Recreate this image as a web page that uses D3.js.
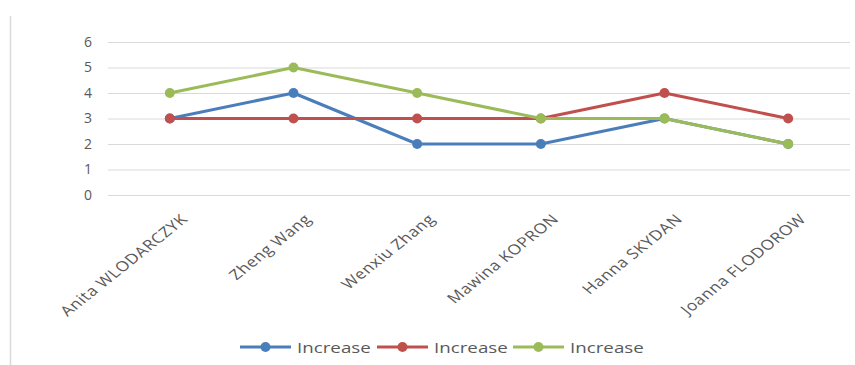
<!DOCTYPE html>
<html>
<head>
<meta charset="utf-8">
<script src="https://cdn.jsdelivr.net/npm/d3@7"></script>
<style>
  body { margin: 0; background: #fff; }
  text { font-family: "Open Sans", "Liberation Sans", Arial, sans-serif; fill: #595959; }
</style>
</head>
<body>
<svg id="chart" width="855" height="365"></svg>
<script>
// categories and series
var names = ["Anita WLODARCZYK", "Zheng Wang", "Wenxiu Zhang", "Mawina KOPRON", "Hanna SKYDAN", "Joanna FLODOROW"];
var blueValues = [3, 4, 2, 2, 3, 2];
var redValues = [3, 3, 3, 3, 4, 3];
var greenValues = [4, 5, 4, 3, 3, 2];
var seriesNames = ["Increase", "Increase", "Increase"];
var yTicks = [0, 1, 2, 3, 4, 5, 6];

var colors = ["#4a7ebb", "#c0504d", "#9bbb59"];

var svg = d3.select("#chart");

// plot area
const plotLeft = 108, plotRight = 850, plotTop = 42, plotBottom = 195;
// the source picture is a bit stretched sideways, text too
const stretch = 1.25;

var xScale = d3.scaleBand()
  .domain(names)
  .range([plotLeft, plotRight]);

var yScale = d3.scaleLinear()
  .domain([0, 6])
  .range([plotBottom, plotTop]);

// outer frame line on the left
svg.append("line")
  .attr("x1", 10.5).attr("x2", 10.5)
  .attr("y1", 16).attr("y2", 365)
  .style("stroke", "#d9d9d9")
  .style("stroke-width", 1.5);

// gridlines + y labels
var yAxis = d3.axisLeft(yScale)
  .tickValues(yTicks)
  .tickFormat(d3.format("d"))
  .tickSize(-(plotRight - plotLeft))
  .tickPadding(16);
var gy = svg.append("g")
  .attr("transform", "translate(" + plotLeft + ",0)")
  .call(yAxis);
gy.select(".domain").remove();
gy.selectAll(".tick line").style("stroke", "#d9d9d9").style("stroke-width", 1);
gy.selectAll(".tick text")
  .style("font-size", "14px")
  .style("fill", "#595959")
  .attr("font-family", null);

// category labels, rotated
svg.selectAll("text.cat")
  .data(names)
  .enter()
  .append("text")
  .attr("class", "cat")
  .attr("text-anchor", "end")
  .attr("transform", function (d) {
    var cx = xScale(d) + xScale.bandwidth() / 2;
    return "translate(" + (cx + 19) + "," + 220 + ")scale(" + stretch + ",1)rotate(-45)";
  })
  .style("font-size", "14px")
  .style("letter-spacing", "0.5px")
  .text(function (d) { return d; });

var allSeries = [blueValues, redValues, greenValues];

var line = d3.line()
  .x(function (d, i) { return xScale(names[i]) + xScale.bandwidth() / 2; })
  .y(function (d) { return yScale(d); });

allSeries.forEach(function (values, s) {
  svg.append("path")
    .datum(values)
    .attr("d", line)
    .style("fill", "none")
    .style("stroke", colors[s])
    .style("stroke-width", 3)
    .style("stroke-linejoin", "round");

  svg.selectAll("circle.s" + s)
    .data(values)
    .enter()
    .append("circle")
    .attr("class", "s" + s)
    .attr("cx", function (d, i) { return xScale(names[i]) + xScale.bandwidth() / 2; })
    .attr("cy", function (d) { return yScale(d); })
    .attr("r", 5)
    .style("fill", colors[s]);
});

// legend
var legendX = [240, 377, 513];
var legendY = 347;
seriesNames.forEach(function (name, s) {
  var g = svg.append("g").attr("transform", "translate(" + legendX[s] + "," + legendY + ")");
  g.append("line")
    .attr("x1", 0).attr("x2", 51)
    .attr("y1", 0).attr("y2", 0)
    .style("stroke", colors[s])
    .style("stroke-width", 3);
  g.append("circle")
    .attr("cx", 25.5).attr("cy", 0).attr("r", 5)
    .style("fill", colors[s]);
  g.append("text")
    .attr("transform", "translate(57,6)scale(" + stretch + ",1)")
    .style("font-size", "15px")
    .text(name);
});
</script>
</body>
</html>
